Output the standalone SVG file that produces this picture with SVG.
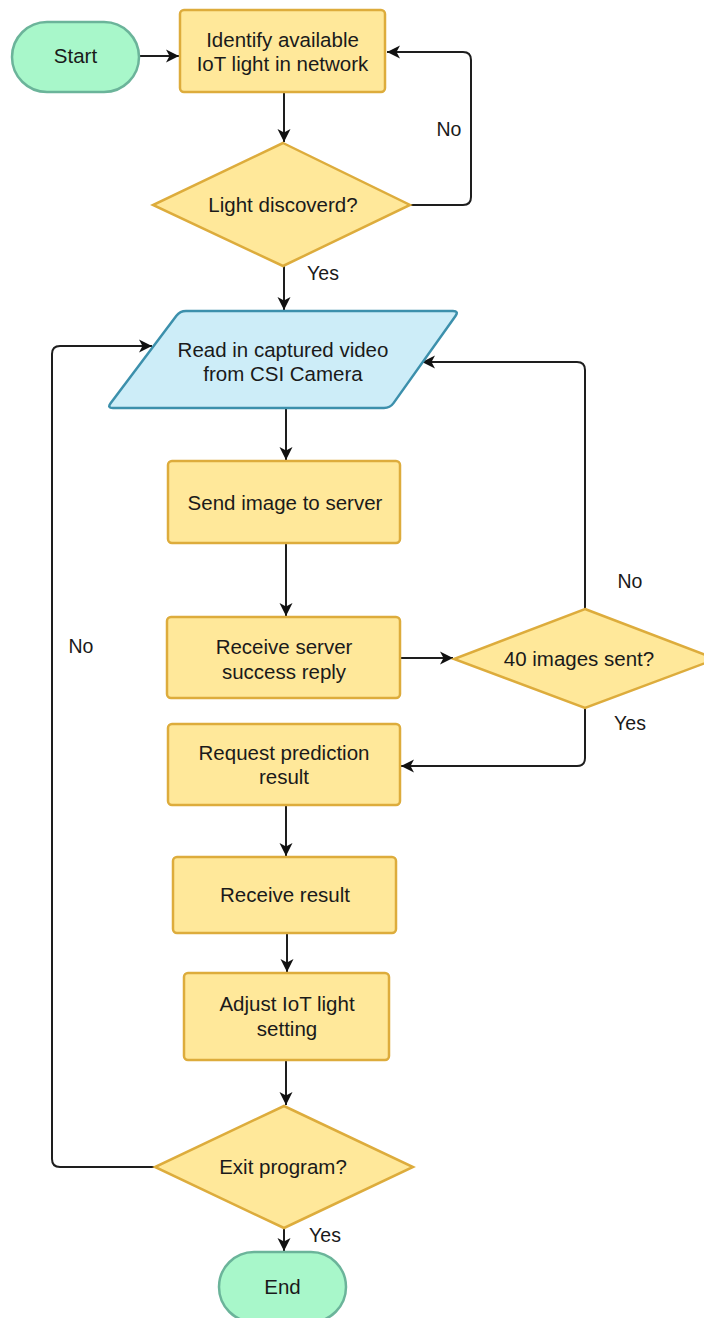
<svg xmlns="http://www.w3.org/2000/svg" width="704" height="1318" viewBox="0 0 704 1318">
  <style>
    .proc { fill: #FFE89A; stroke: #DDAC3C; stroke-width: 2.5; }
    .term { fill: #A8F7CA; stroke: #6BB49A; stroke-width: 2.5; }
    .io { fill: #CDEDF8; stroke: #3C90AC; stroke-width: 2.5; stroke-linejoin: round; }
    .txt { font-family: "Liberation Sans", Arial, sans-serif; font-size: 20.5px; fill: #1a1a1a; text-anchor: middle; }
    .lbl { font-family: "Liberation Sans", Arial, sans-serif; font-size: 19.5px; fill: #1a1a1a; text-anchor: middle; }
    .edge { fill: none; stroke: #1e1e1e; stroke-width: 2; marker-end: url(#arrow); }
  </style>
  <defs>
    <marker id="arrow" markerUnits="userSpaceOnUse" markerWidth="18" markerHeight="18" viewBox="-16 -9 18 18" refX="0" refY="0" orient="auto">
      <path d="M0,0 L-13,-6.5 L-9.5,0 L-13,6.5 Z" fill="#111"/>
    </marker>
  </defs>

  <rect width="704" height="1318" fill="#ffffff"/>

  <!-- connectors -->
  <g id="connectors">
    <path class="edge" d="M139,56 H179"/>
    <path class="edge" d="M284,92 V142"/>
    <path class="edge" d="M410,205 H463 Q471,205 471,197 V60 Q471,52 463,52 H387"/>
    <path class="edge" d="M284,266 V310"/>
    <path class="edge" d="M286,408 V460"/>
    <path class="edge" d="M286,543 V616"/>
    <path class="edge" d="M400,658 H453"/>
    <path class="edge" d="M585,609 V370 Q585,362 577,362 H422"/>
    <path class="edge" d="M585,708 V758 Q585,766 577,766 H401"/>
    <path class="edge" d="M286,805 V856"/>
    <path class="edge" d="M287,933 V972"/>
    <path class="edge" d="M286,1060 V1105"/>
    <path class="edge" d="M155,1167 H60 Q52,1167 52,1159 V354 Q52,346 60,346 H152"/>
    <path class="edge" d="M284,1228 V1251"/>
  </g>

  <!-- branch labels -->
  <g id="labels">
    <text class="lbl" x="449" y="136">No</text>
    <text class="lbl" x="323" y="280">Yes</text>
    <text class="lbl" x="630" y="588">No</text>
    <text class="lbl" x="630" y="730">Yes</text>
    <text class="lbl" x="81" y="653">No</text>
    <text class="lbl" x="325" y="1242">Yes</text>
  </g>

  <g id="start">
    <rect class="term" x="12" y="22" width="127" height="70" rx="35" ry="35"/>
    <text class="txt" x="75.5" y="63">Start</text>
  </g>

  <g id="identify">
    <rect class="proc" x="180" y="10" width="205" height="82" rx="4"/>
    <text class="txt" x="282.5" y="47">Identify available</text>
    <text class="txt" x="282.5" y="71">IoT light in network</text>
  </g>

  <g id="light-discovered">
    <polygon class="proc" points="283,143 410,205 283,266 153,205"/>
    <text class="txt" x="283" y="212">Light discoverd?</text>
  </g>

  <g id="read-video">
    <path class="io" d="M186,311 H453 Q459,311 455.5,315.9 L393.5,403.1 Q390,408 384,408 H113 Q107,408 110.6,403.2 L176.4,315.8 Q180,311 186,311 Z"/>
    <text class="txt" x="283" y="357">Read in captured video</text>
    <text class="txt" x="283" y="381">from CSI Camera</text>
  </g>

  <g id="send-image">
    <rect class="proc" x="168" y="461" width="232" height="82" rx="4"/>
    <text class="txt" x="285" y="510">Send image to server</text>
  </g>

  <g id="receive-reply">
    <rect class="proc" x="167" y="617" width="233" height="81" rx="4"/>
    <text class="txt" x="284" y="654">Receive server</text>
    <text class="txt" x="284" y="679">success reply</text>
  </g>

  <g id="images-sent">
    <polygon class="proc" points="585,609 716,659 585,708 454,659"/>
    <text class="txt" x="579" y="666">40 images sent?</text>
  </g>

  <g id="request-prediction">
    <rect class="proc" x="168" y="724" width="232" height="81" rx="4"/>
    <text class="txt" x="284" y="760">Request prediction</text>
    <text class="txt" x="284" y="784">result</text>
  </g>

  <g id="receive-result">
    <rect class="proc" x="173" y="857" width="223" height="76" rx="4"/>
    <text class="txt" x="285" y="902">Receive result</text>
  </g>

  <g id="adjust-light">
    <rect class="proc" x="184" y="973" width="205" height="87" rx="4"/>
    <text class="txt" x="287" y="1011">Adjust IoT light</text>
    <text class="txt" x="287" y="1036">setting</text>
  </g>

  <g id="exit-program">
    <polygon class="proc" points="284,1106 413,1167 284,1228 155,1167"/>
    <text class="txt" x="283" y="1174">Exit program?</text>
  </g>

  <g id="end">
    <rect class="term" x="219" y="1252" width="127" height="70" rx="35" ry="35"/>
    <text class="txt" x="282.5" y="1294">End</text>
  </g>
</svg>
